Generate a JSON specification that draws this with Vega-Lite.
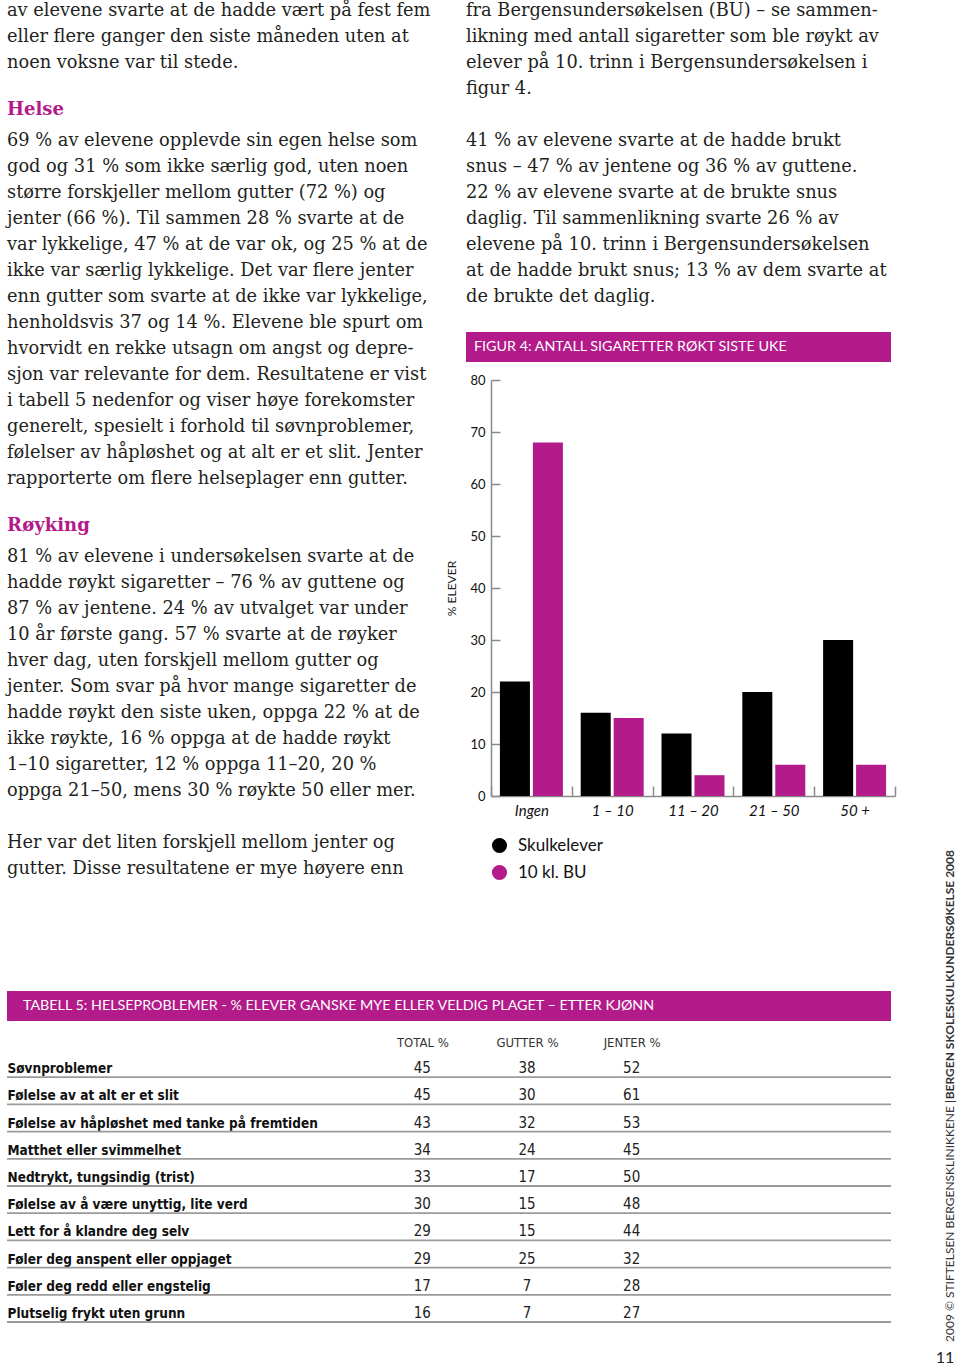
{
  "$schema": "https://vega.github.io/schema/vega-lite/v6.json",
  "background": "white",
  "padding": {"left": 6, "top": 0, "right": 0, "bottom": 0},
  "config": {"view": {"stroke": null}},
  "datasets": {
    "text": [
      {"col": "venstre", "line": 0, "kind": "body", "text": "av elevene svarte at de hadde vært på fest fem"},
      {"col": "venstre", "line": 1, "kind": "body", "text": "eller flere ganger den siste måneden uten at"},
      {"col": "venstre", "line": 2, "kind": "body", "text": "noen voksne var til stede."},
      {"col": "venstre", "line": 4, "kind": "heading", "text": "Helse"},
      {"col": "venstre", "line": 5, "kind": "body", "text": "69 % av elevene opplevde sin egen helse som"},
      {"col": "venstre", "line": 6, "kind": "body", "text": "god og 31 % som ikke særlig god, uten noen"},
      {"col": "venstre", "line": 7, "kind": "body", "text": "større forskjeller mellom gutter (72 %) og"},
      {"col": "venstre", "line": 8, "kind": "body", "text": "jenter (66 %). Til sammen 28 % svarte at de"},
      {"col": "venstre", "line": 9, "kind": "body", "text": "var lykkelige, 47 % at de var ok, og 25 % at de"},
      {"col": "venstre", "line": 10, "kind": "body", "text": "ikke var særlig lykkelige. Det var flere jenter"},
      {"col": "venstre", "line": 11, "kind": "body", "text": "enn gutter som svarte at de ikke var lykkelige,"},
      {"col": "venstre", "line": 12, "kind": "body", "text": "henholdsvis 37 og 14 %. Elevene ble spurt om"},
      {"col": "venstre", "line": 13, "kind": "body", "text": "hvorvidt en rekke utsagn om angst og depre-"},
      {"col": "venstre", "line": 14, "kind": "body", "text": "sjon var relevante for dem. Resultatene er vist"},
      {"col": "venstre", "line": 15, "kind": "body", "text": "i tabell 5 nedenfor og viser høye forekomster"},
      {"col": "venstre", "line": 16, "kind": "body", "text": "generelt, spesielt i forhold til søvnproblemer,"},
      {"col": "venstre", "line": 17, "kind": "body", "text": "følelser av håpløshet og at alt er et slit. Jenter"},
      {"col": "venstre", "line": 18, "kind": "body", "text": "rapporterte om flere helseplager enn gutter."},
      {"col": "venstre", "line": 20, "kind": "heading", "text": "Røyking"},
      {"col": "venstre", "line": 21, "kind": "body", "text": "81 % av elevene i undersøkelsen svarte at de"},
      {"col": "venstre", "line": 22, "kind": "body", "text": "hadde røykt sigaretter – 76 % av guttene og"},
      {"col": "venstre", "line": 23, "kind": "body", "text": "87 % av jentene. 24 % av utvalget var under"},
      {"col": "venstre", "line": 24, "kind": "body", "text": "10 år første gang. 57 % svarte at de røyker"},
      {"col": "venstre", "line": 25, "kind": "body", "text": "hver dag, uten forskjell mellom gutter og"},
      {"col": "venstre", "line": 26, "kind": "body", "text": "jenter. Som svar på hvor mange sigaretter de"},
      {"col": "venstre", "line": 27, "kind": "body", "text": "hadde røykt den siste uken, oppga 22 % at de"},
      {"col": "venstre", "line": 28, "kind": "body", "text": "ikke røykte, 16 % oppga at de hadde røykt"},
      {"col": "venstre", "line": 29, "kind": "body", "text": "1–10 sigaretter, 12 % oppga 11–20, 20 %"},
      {"col": "venstre", "line": 30, "kind": "body", "text": "oppga 21–50, mens 30 % røykte 50 eller mer."},
      {"col": "venstre", "line": 32, "kind": "body", "text": "Her var det liten forskjell mellom jenter og"},
      {"col": "venstre", "line": 33, "kind": "body", "text": "gutter. Disse resultatene er mye høyere enn"},
      {"col": "hoyre", "line": 0, "kind": "body", "text": "fra Bergensundersøkelsen (BU) – se sammen-"},
      {"col": "hoyre", "line": 1, "kind": "body", "text": "likning med antall sigaretter som ble røykt av"},
      {"col": "hoyre", "line": 2, "kind": "body", "text": "elever på 10. trinn i Bergensundersøkelsen i"},
      {"col": "hoyre", "line": 3, "kind": "body", "text": "figur 4."},
      {"col": "hoyre", "line": 5, "kind": "body", "text": "41 % av elevene svarte at de hadde brukt"},
      {"col": "hoyre", "line": 6, "kind": "body", "text": "snus – 47 % av jentene og 36 % av guttene."},
      {"col": "hoyre", "line": 7, "kind": "body", "text": "22 % av elevene svarte at de brukte snus"},
      {"col": "hoyre", "line": 8, "kind": "body", "text": "daglig. Til sammenlikning svarte 26 % av"},
      {"col": "hoyre", "line": 9, "kind": "body", "text": "elevene på 10. trinn i Bergensundersøkelsen"},
      {"col": "hoyre", "line": 10, "kind": "body", "text": "at de hadde brukt snus; 13 % av dem svarte at"},
      {"col": "hoyre", "line": 11, "kind": "body", "text": "de brukte det daglig."}
    ],
    "figTitle": [{"label": "FIGUR 4: ANTALL SIGARETTER RØKT SISTE UKE"}],
    "tableTitle": [{"label": "TABELL 5: HELSEPROBLEMER - % ELEVER GANSKE MYE ELLER VELDIG PLAGET – ETTER KJØNN"}],
    "smoking": [
      {"antall": "Ingen", "gruppe": "Skulkelever", "prosent": 22},
      {"antall": "Ingen", "gruppe": "10 kl. BU", "prosent": 68},
      {"antall": "1 – 10", "gruppe": "Skulkelever", "prosent": 16},
      {"antall": "1 – 10", "gruppe": "10 kl. BU", "prosent": 15},
      {"antall": "11 – 20", "gruppe": "Skulkelever", "prosent": 12},
      {"antall": "11 – 20", "gruppe": "10 kl. BU", "prosent": 4},
      {"antall": "21 – 50", "gruppe": "Skulkelever", "prosent": 20},
      {"antall": "21 – 50", "gruppe": "10 kl. BU", "prosent": 6},
      {"antall": "50 +", "gruppe": "Skulkelever", "prosent": 30},
      {"antall": "50 +", "gruppe": "10 kl. BU", "prosent": 6}
    ],
    "table": [
      {"problem": "Søvnproblemer", "total": 45, "gutter": 38, "jenter": 52},
      {"problem": "Følelse av at alt er et slit", "total": 45, "gutter": 30, "jenter": 61},
      {"problem": "Følelse av håpløshet med tanke på fremtiden", "total": 43, "gutter": 32, "jenter": 53},
      {"problem": "Matthet eller svimmelhet", "total": 34, "gutter": 24, "jenter": 45},
      {"problem": "Nedtrykt, tungsindig (trist)", "total": 33, "gutter": 17, "jenter": 50},
      {"problem": "Følelse av å være unyttig, lite verd", "total": 30, "gutter": 15, "jenter": 48},
      {"problem": "Lett for å klandre deg selv", "total": 29, "gutter": 15, "jenter": 44},
      {"problem": "Føler deg anspent eller oppjaget", "total": 29, "gutter": 25, "jenter": 32},
      {"problem": "Føler deg redd eller engstelig", "total": 17, "gutter": 7, "jenter": 28},
      {"problem": "Plutselig frykt uten grunn", "total": 16, "gutter": 7, "jenter": 27}
    ],
    "footer": [
      {"part": "rapport", "text": "BERGEN SKOLESKULKUNDERSØKELSE 2008"},
      {"part": "utgiver", "text": "2009 © STIFTELSEN BERGENSKLINIKKENE |"}
    ]
  },
  "bounds": "full",
  "spacing": 39,
  "resolve": {"scale": {"color": "independent"}, "legend": {"color": "independent"}},
  "hconcat": [
    {
      "bounds": "full",
      "spacing": 3,
      "resolve": {"scale": {"color": "independent"}, "legend": {"color": "independent"}},
      "vconcat": [
        {
          "bounds": "flush",
          "spacing": 0,
          "resolve": {"scale": {"color": "independent"}, "legend": {"color": "independent"}},
          "hconcat": [
            {
              "width": 459,
              "height": 988,
              "data": {"name": "text"},
              "transform": [{"filter": "datum.col === 'venstre'"}],
              "encoding": {
                "x": {"field": "col", "type": "nominal", "axis": null, "scale": {"type": "point", "align": 0}},
                "y": {"field": "line", "type": "quantitative", "axis": null, "scale": {"domain": [-0.423, 37.577], "reverse": true, "nice": false, "zero": false}},
                "text": {"field": "text"}
              },
              "layer": [
                {"transform": [{"filter": "datum.kind === 'body'"}], "mark": {"type": "text", "align": "left", "baseline": "middle", "font": "DejaVu Serif", "fontSize": 17.8, "color": "#231f20"}},
                {"transform": [{"filter": "datum.kind === 'heading'"}], "mark": {"type": "text", "align": "left", "baseline": "middle", "font": "DejaVu Serif", "fontWeight": "bold", "fontSize": 18, "color": "#b31b8b", "dy": -5}}
              ]
            },
            {
              "bounds": "flush",
              "spacing": 18,
              "resolve": {"scale": {"color": "independent"}, "legend": {"color": "independent"}},
              "vconcat": [
                {
                  "width": 425,
                  "height": 314,
                  "data": {"name": "text"},
                  "transform": [{"filter": "datum.col === 'hoyre'"}],
                  "mark": {"type": "text", "align": "left", "baseline": "middle", "font": "DejaVu Serif", "fontSize": 17.8, "color": "#231f20"},
                  "encoding": {
                    "x": {"field": "col", "type": "nominal", "axis": null, "scale": {"type": "point", "align": 0}},
                    "y": {"field": "line", "type": "quantitative", "axis": null, "scale": {"domain": [-0.423, 11.654], "reverse": true, "nice": false, "zero": false}},
                    "text": {"field": "text"}
                  }
                },
                {
                  "width": 425,
                  "height": 30,
                  "view": {"fill": "#b31b8b", "stroke": null},
                  "data": {"name": "figTitle"},
                  "mark": {"type": "text", "align": "left", "baseline": "middle", "color": "white", "font": "Lato", "fontSize": 14.3, "dx": 8},
                  "encoding": {
                    "x": {"field": "label", "type": "nominal", "axis": null, "scale": {"type": "point", "align": 0}},
                    "text": {"field": "label"}
                  }
                },
                {
                  "bounds": "flush",
                  "spacing": 24,
                  "resolve": {"scale": {"color": "independent"}, "legend": {"color": "independent"}},
                  "hconcat": [
                    {"width": 1, "height": 1, "data": {"values": []}, "mark": "point", "encoding": {}},
                    {
                      "width": 404,
                      "height": 416,
                      "data": {"name": "smoking"},
                      "mark": {"type": "bar"},
                      "encoding": {
                        "x": {
                          "field": "antall", "type": "nominal",
                          "sort": ["Ingen", "1 – 10", "11 – 20", "21 – 50", "50 +"],
                          "scale": {"paddingInner": 0, "paddingOuter": 0},
                          "axis": {"title": null, "labelAngle": 0, "labelFont": "Lato", "labelFontStyle": "italic", "labelFontSize": 15, "labelColor": "#111", "labelPadding": 17, "labelBaseline": "top", "tickBand": "extent", "ticks": true, "tickSize": -10, "tickColor": "#8a8a8a", "tickWidth": 1.5, "domainColor": "#8a8a8a", "domainWidth": 1.5}
                        },
                        "xOffset": {"field": "gruppe", "type": "nominal", "sort": ["Skulkelever", "10 kl. BU"], "scale": {"paddingInner": 0.09, "paddingOuter": 0.27}},
                        "y": {
                          "field": "prosent", "type": "quantitative",
                          "scale": {"domain": [0, 80], "nice": false},
                          "axis": {"title": "% ELEVER", "values": [0, 10, 20, 30, 40, 50, 60, 70, 80], "grid": false, "tickSize": -9, "labelPadding": 15, "tickColor": "#8a8a8a", "tickWidth": 1.5, "domainColor": "#8a8a8a", "domainWidth": 1.5, "labelFont": "Lato", "labelFontSize": 13, "labelColor": "#111", "titleFont": "Lato", "titleFontSize": 12, "titleFontWeight": "normal", "titleColor": "#222", "titlePadding": 11}
                        },
                        "color": {
                          "field": "gruppe", "type": "nominal",
                          "scale": {"domain": ["Skulkelever", "10 kl. BU"], "range": ["#000000", "#b31b8b"]},
                          "legend": {"title": null, "orient": "bottom", "direction": "vertical", "symbolType": "circle", "symbolSize": 230, "symbolStrokeWidth": 0, "labelFont": "Lato", "labelFontSize": 17, "labelColor": "#111", "labelOffset": 10, "rowPadding": 9, "offset": 19}
                        }
                      }
                    }
                  ]
                }
              ]
            }
          ]
        },
        {
          "bounds": "flush",
          "spacing": 29,
          "vconcat": [
            {
              "width": 884,
              "height": 30,
              "view": {"fill": "#b31b8b", "stroke": null},
              "data": {"name": "tableTitle"},
              "mark": {"type": "text", "align": "left", "baseline": "middle", "color": "white", "font": "Lato", "fontSize": 14.3, "dx": 16},
              "encoding": {
                "x": {"field": "label", "type": "nominal", "axis": null, "scale": {"type": "point", "align": 0}},
                "text": {"field": "label"}
              }
            },
            {
              "bounds": "flush",
              "spacing": 0,
              "hconcat": [
                {
                  "width": 363,
                  "height": 272,
                  "data": {"name": "table"},
                  "mark": {"type": "rule", "color": "#9b9b9b", "strokeWidth": 1.8},
                  "encoding": {
                    "y": {"field": "problem", "type": "nominal", "sort": null, "bandPosition": 1, "scale": {"type": "band", "paddingInner": 0, "paddingOuter": 0},
                      "axis": {"title": null, "domain": false, "ticks": false, "labelAlign": "left", "labelPadding": 0, "labelOffset": 9.5, "labelFont": "DejaVu Sans Condensed, Roboto Condensed, Roboto", "labelFontWeight": "bold", "labelFontSize": 13.5, "labelColor": "#111", "labelLimit": 600, "labelBaseline": "alphabetic"}}
                  }
                },
                {
                  "width": 314,
                  "height": 272,
                  "data": {"name": "table"},
                  "layer": [
                    {
                      "mark": {"type": "rule", "color": "#9b9b9b", "strokeWidth": 1.8},
                      "encoding": {
                        "y": {"field": "problem", "type": "nominal", "sort": null, "bandPosition": 1, "scale": {"type": "band", "paddingInner": 0, "paddingOuter": 0}, "axis": null}
                      }
                    },
                    {
                      "transform": [{"fold": ["total", "gutter", "jenter"], "as": ["kolonne", "prosent"]}],
                      "mark": {"type": "text", "align": "center", "baseline": "alphabetic", "font": "DejaVu Sans Condensed, Roboto Condensed, Roboto", "fontSize": 15, "color": "#222"},
                      "encoding": {
                        "x": {"field": "kolonne", "type": "nominal", "sort": ["total", "gutter", "jenter"], "scale": {"type": "point", "padding": 0.5},
                          "axis": {"orient": "top", "title": null, "domain": false, "ticks": false, "labelAngle": 0, "labelPadding": 1, "labelFont": "DejaVu Sans Condensed, Roboto Condensed, Roboto", "labelFontSize": 13, "labelColor": "#333", "labelExpr": "{'total': 'TOTAL %', 'gutter': 'GUTTER %', 'jenter': 'JENTER %'}[datum.value]"}},
                        "y": {"field": "problem", "type": "nominal", "sort": null, "bandPosition": 0.85, "scale": {"type": "band", "paddingInner": 0, "paddingOuter": 0}, "axis": null},
                        "text": {"field": "prosent", "type": "quantitative"}
                      }
                    }
                  ]
                },
                {
                  "width": 207,
                  "height": 272,
                  "data": {"name": "table"},
                  "mark": {"type": "rule", "color": "#9b9b9b", "strokeWidth": 1.8},
                  "encoding": {
                    "y": {"field": "problem", "type": "nominal", "sort": null, "bandPosition": 1, "scale": {"type": "band", "paddingInner": 0, "paddingOuter": 0}, "axis": null}
                  }
                }
              ]
            }
          ]
        }
      ]
    },
    {
      "width": 20,
      "height": 1342,
      "data": {"name": "footer"},
      "title": {"text": "11", "orient": "bottom", "anchor": "middle", "font": "Lato", "fontSize": 16, "fontWeight": "normal", "color": "#222", "offset": 8, "baseline": "top", "dx": -5},
      "encoding": {
        "y": {"field": "part", "type": "nominal", "axis": null, "scale": {"type": "point", "domain": ["rapport", "utgiver"], "padding": 0.8638, "align": 1}},
        "text": {"field": "text"}
      },
      "layer": [
        {"transform": [{"filter": "datum.part === 'utgiver'"}], "mark": {"type": "text", "angle": 270, "align": "left", "baseline": "middle", "font": "Lato", "fontSize": 12, "color": "#333"}},
        {"transform": [{"filter": "datum.part === 'rapport'"}], "mark": {"type": "text", "angle": 270, "align": "right", "baseline": "middle", "font": "Lato", "fontWeight": "bold", "fontSize": 12, "color": "#333"}}
      ]
    }
  ]
}
